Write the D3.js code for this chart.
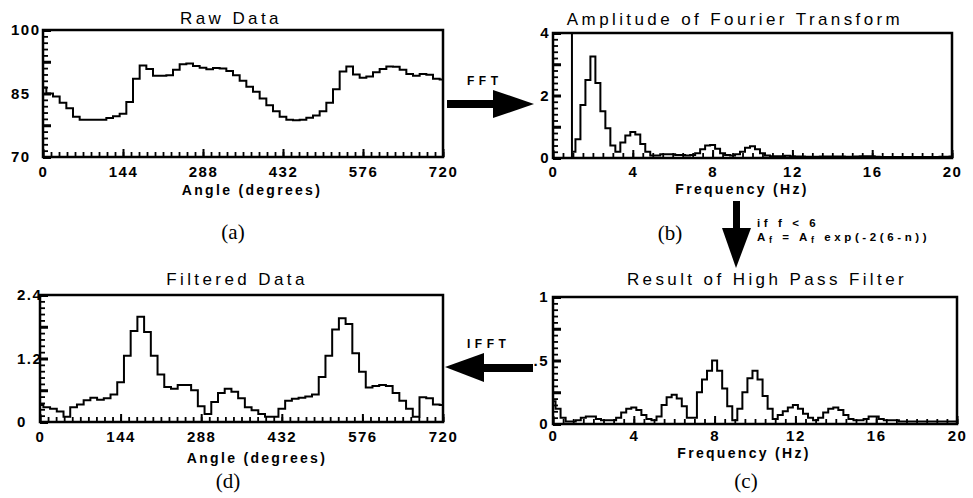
<!DOCTYPE html>
<html>
<head>
<meta charset="utf-8">
<script src="https://cdn.jsdelivr.net/npm/d3@7"></script>
<style>
  body { margin: 0; background: #fff; }
  text { font-family: "Liberation Sans", Arial, Helvetica, sans-serif; fill: #000; }
  .serif { font-family: "Liberation Serif", "Times New Roman", serif; }
</style>
</head>
<body>
<svg id="chart" width="973" height="498"></svg>
<script>
// sample positions (degrees), one row per 144 deg
const angles = [
    0, 12, 24, 36, 48, 60, 72, 84, 96, 108, 120, 132,
    144, 156, 168, 180, 192, 204, 216, 228, 240, 252, 264, 276,
    288, 300, 312, 324, 336, 348, 360, 372, 384, 396, 408, 420,
    432, 444, 456, 468, 480, 492, 504, 516, 528, 540, 552, 564,
    576, 588, 600, 612, 624, 636, 648, 660, 672, 684, 696, 708,
    720
]
const rawValues = [
    86.4, 85.0, 84.3, 82.8, 81.5, 79.5, 78.8, 78.8, 78.8, 78.8, 79.2, 79.6,
    80.2, 83.0, 88.5, 91.6, 90.8, 89.2, 89.2, 89.3, 90.6, 91.9, 92.1, 91.5,
    91.1, 90.7, 91.0, 90.9, 90.3, 89.3, 88.0, 86.6, 85.4, 83.8, 82.2, 80.8,
    79.5, 78.8, 78.7, 78.8, 79.3, 79.8, 80.8, 82.8, 86.0, 90.2, 91.4, 89.5,
    88.7, 89.0, 90.0, 90.8, 91.4, 91.3, 90.6, 89.6, 89.2, 89.6, 89.4, 88.5,
    88.3
]
const filteredValues = [
    0.32, 0.28, 0.25, 0.20, 0.10, 0.28, 0.33, 0.41, 0.46, 0.42, 0.45, 0.52,
    0.75, 1.25, 1.72, 1.99, 1.70, 1.25, 0.90, 0.66, 0.63, 0.70, 0.70, 0.60,
    0.30, 0.15, 0.38, 0.55, 0.63, 0.57, 0.45, 0.28, 0.22, 0.15, 0.10, 0.10,
    0.25, 0.40, 0.44, 0.46, 0.48, 0.52, 0.85, 1.25, 1.75, 1.96, 1.85, 1.30,
    0.95, 0.65, 0.68, 0.70, 0.68, 0.55, 0.40, 0.25, 0.10, 0.47, 0.45, 0.33,
    0.32
]

// sample positions (Hz), one row per Hz
const freqs = [
    0, 0.25, 0.5, 0.75,   1, 1.25, 1.5, 1.75,   2, 2.25, 2.5, 2.75,
    3, 3.25, 3.5, 3.75,   4, 4.25, 4.5, 4.75,   5, 5.25, 5.5, 5.75,
    6, 6.25, 6.5, 6.75,   7, 7.25, 7.5, 7.75,   8, 8.25, 8.5, 8.75,
    9, 9.25, 9.5, 9.75,   10, 10.25, 10.5, 10.75,   11, 11.25, 11.5, 11.75,
    12, 12.25, 12.5, 12.75,   13, 13.25, 13.5, 13.75,   14, 14.25, 14.5, 14.75,
    15, 15.25, 15.5, 15.75,   16, 16.25, 16.5, 16.75,   17, 17.25, 17.5, 17.75,
    18, 18.25, 18.5, 18.75,   19, 19.25, 19.5, 19.75,   20
]
const fftValues = [
    null, null, null, null,   0.20, 0.60, 1.70, 2.50,   3.25, 2.40, 1.50, 0.95,
    0.40, 0.20, 0.50, 0.72,   0.83, 0.75, 0.45, 0.20,   0.08, 0.08, 0.12, 0.12,
    0.12, 0.10, 0.10, 0.08,   0.10, 0.15, 0.28, 0.40,   0.42, 0.30, 0.15, 0.10,
    0.08, 0.12, 0.20, 0.33,   0.38, 0.28, 0.15, 0.08,   0.06, 0.06, 0.06, 0.07,
    0.06, 0.05, 0.05, 0.04,   0.04, 0.04, 0.05, 0.05,   0.05, 0.05, 0.05, 0.04,
    0.04, 0.05, 0.06, 0.06,   0.06, 0.04, 0.03, 0.03,   0.03, 0.03, 0.03, 0.03,
    0.03, 0.03, 0.03, 0.03,   0.03, 0.03, 0.04, 0.04,   0.05
]
const highPassValues = [
    0.18, 0.12, 0.05, 0.02,   0.02, 0.03, 0.05, 0.06,   0.06, 0.04, 0.03, 0.03,
    0.03, 0.05, 0.09, 0.12,   0.13, 0.11, 0.07, 0.04,   0.03, 0.06, 0.15, 0.21,
    0.23, 0.20, 0.14, 0.05,   0.05, 0.25, 0.35, 0.42,   0.50, 0.42, 0.28, 0.14,
    0.03, 0.12, 0.25, 0.36,   0.42, 0.35, 0.22, 0.12,   0.04, 0.07, 0.10, 0.13,
    0.15, 0.12, 0.08, 0.05,   0.03, 0.05, 0.09, 0.12,   0.13, 0.11, 0.07, 0.04,
    0.03, 0.03, 0.04, 0.06,   0.06, 0.04, 0.03, 0.03,   0.03, 0.02, 0.02, 0.02,
    0.02, 0.02, 0.02, 0.02,   0.02, 0.02, 0.02, 0.02,   0.02
]
const fftCutoff = 0.95

const angleTicks = [0, 144, 288, 432, 576, 720]
const freqTicks = [0, 4, 8, 12, 16, 20]
const rawTicks = [70, 85, 100]
const fftTicks = [0, 2, 4]
const filteredTicks = [0, 1.2, 2.4]
const highPassTicks = [0, 0.5, 1]

const svg = d3.select("#chart")

const panels = [
    {
        title: "Raw Data", tag: "(a)", xlabel: "Angle (degrees)",
        box: [43, 30, 443, 157], xs: angles, ys: rawValues,
        xDomain: [0, 720], yDomain: [70, 100],
        xTicks: angleTicks, xMinor: 14.4, yTicks: rawTicks, yMinor: 1.5, yMajor: 7.5,
        yFormat: d3.format("d"), yLabel: { anchor: "start", x: 11 }, xPad: 9,
        titlePos: [231, 24], xlabelPos: [252, 195], tagPos: [233, 239]
    },
    {
        title: "Amplitude of Fourier Transform", tag: "(b)", xlabel: "Frequency (Hz)",
        box: [553, 33, 952, 158], xs: freqs, ys: fftValues,
        xDomain: [0, 20], yDomain: [0, 4],
        xTicks: freqTicks, xMinor: 0.5, yTicks: fftTicks, yMinor: 0.2, yMajor: 1,
        yFormat: d3.format("d"), yLabel: { anchor: "end", x: 550 }, xPad: 8,
        titlePos: [735, 25], xlabelPos: [742, 194], tagPos: [670, 240],
        cutoff: fftCutoff
    },
    {
        title: "Filtered Data", tag: "(d)", xlabel: "Angle (degrees)",
        box: [40, 295, 443, 422], xs: angles, ys: filteredValues,
        xDomain: [0, 720], yDomain: [0, 2.4],
        xTicks: angleTicks, xMinor: 14.4, yTicks: filteredTicks, yMinor: 0.12, yMajor: 0.6,
        yFormat: d => d === 0 ? "0" : d3.format(".1f")(d), yLabel: { anchor: "start", x: 17 }, xPad: 9,
        titlePos: [237, 285], xlabelPos: [257, 463], tagPos: [228, 488]
    },
    {
        title: "Result of High Pass Filter", tag: "(c)", xlabel: "Frequency (Hz)",
        box: [553, 297, 957, 424], xs: freqs, ys: highPassValues,
        xDomain: [0, 20], yDomain: [0, 1],
        xTicks: freqTicks, xMinor: 0.5, yTicks: highPassTicks, yMinor: 0.05, yMajor: 0.25,
        yFormat: d => d === 0.5 ? ".5" : String(d), yLabel: { anchor: "end", x: 549 }, xPad: 6,
        titlePos: [767, 285], xlabelPos: [744, 457.5], tagPos: [746, 488]
    }
]

panels.forEach(drawPanel)
drawArrows()

function steps(domain, step) {
    const n = Math.round((domain[1] - domain[0]) / step)
    return d3.range(n + 1).map(i => domain[0] + i * step)
}

function drawPanel(p) {
    const [x0, y0, x1, y1] = p.box
    const w = x1 - x0, h = y1 - y0
    const x = d3.scaleLinear().domain(p.xDomain).range([0, w])
    const y = d3.scaleLinear().domain(p.yDomain).range([h, 0])
    const g = svg.append("g").attr("transform", `translate(${x0},${y0})`)

    // minor ticks, pointing inward
    g.append("g").attr("transform", `translate(0,${h})`)
        .call(d3.axisBottom(x).tickValues(steps(p.xDomain, p.xMinor)).tickSize(-5).tickFormat(""))
        .call(s => s.select(".domain").remove())
        .call(s => s.selectAll("line").attr("stroke", "#000").attr("stroke-width", 1.8))
    g.append("g")
        .call(d3.axisLeft(y).tickValues(steps(p.yDomain, p.yMinor)).tickSize(-5).tickFormat(""))
        .call(s => s.select(".domain").remove())
        .call(s => s.selectAll("line").attr("stroke", "#000").attr("stroke-width", 1.8))
    g.append("g")
        .call(d3.axisLeft(y).tickValues(steps(p.yDomain, p.yMajor)).tickSize(-8).tickFormat(""))
        .call(s => s.select(".domain").remove())
        .call(s => s.selectAll("line").attr("stroke", "#000").attr("stroke-width", 3))

    // labelled ticks
    g.append("g").attr("transform", `translate(0,${h})`)
        .call(d3.axisBottom(x).tickValues(p.xTicks).tickSize(-8).tickPadding(p.xPad).tickFormat(d3.format("d")))
        .call(s => s.select(".domain").remove())
        .call(s => s.selectAll("line").attr("stroke", "#000").attr("stroke-width", 2))
        .call(s => s.selectAll("text")
            .attr("fill", "#000")
            .style("font-size", "15px").style("font-weight", "bold").style("letter-spacing", "1.5px"))

    g.append("g")
        .call(d3.axisLeft(y).tickValues(p.yTicks).tickSize(0).tickFormat(p.yFormat))
        .call(s => s.select(".domain").remove())
        .call(s => s.selectAll("text")
            .attr("fill", "#000")
            .attr("text-anchor", p.yLabel.anchor)
            .attr("x", p.yLabel.x - x0)
            .style("font-size", "15px").style("font-weight", "bold").style("letter-spacing", "1.5px"))

    if (p.cutoff != null) {
        g.append("line")
            .attr("x1", x(p.cutoff)).attr("x2", x(p.cutoff))
            .attr("y1", 0).attr("y2", h)
            .attr("stroke", "#000").attr("stroke-width", 2)
    }

    const line = d3.line()
        .defined(d => d != null)
        .x((d, i) => x(p.xs[i]))
        .y(d => y(d))
        .curve(d3.curveStep)

    g.append("path")
        .datum(p.ys)
        .attr("d", line)
        .attr("fill", "none")
        .attr("stroke", "#000")
        .attr("stroke-width", 2)
        .attr("stroke-linejoin", "miter")

    g.append("rect")
        .attr("width", w).attr("height", h)
        .attr("fill", "none")
        .attr("stroke", "#000")
        .attr("stroke-width", 2.5)

    svg.append("text")
        .attr("x", p.titlePos[0]).attr("y", p.titlePos[1])
        .attr("text-anchor", "middle")
        .style("font-size", "17px").style("letter-spacing", "3.4px")
        .text(p.title)

    svg.append("text")
        .attr("x", p.xlabelPos[0]).attr("y", p.xlabelPos[1])
        .attr("text-anchor", "middle")
        .style("font-size", "14px").style("font-weight", "bold").style("letter-spacing", "2.3px")
        .text(p.xlabel)

    svg.append("text")
        .attr("class", "serif")
        .attr("x", p.tagPos[0]).attr("y", p.tagPos[1])
        .attr("text-anchor", "middle")
        .style("font-size", "21px")
        .text(p.tag)
}

function drawArrows() {
    const arrows = svg.append("g").attr("fill", "#000")

    // FFT, pointing right
    arrows.append("rect").attr("x", 447).attr("y", 100).attr("width", 48).attr("height", 8)
    arrows.append("path").attr("d", "M493,90 L534,104 L493,118 Z")
    svg.append("text").attr("x", 467).attr("y", 85)
        .style("font-size", "12px").style("font-weight", "bold").style("letter-spacing", "4.5px")
        .text("FFT")

    // high pass, pointing down
    arrows.append("rect").attr("x", 733).attr("y", 201).attr("width", 7).attr("height", 29)
    arrows.append("path").attr("d", "M722,228 L751,228 L736,268 Z")
    svg.append("text").attr("x", 757).attr("y", 227)
        .style("font-size", "11.5px").style("font-weight", "bold").style("letter-spacing", "3.6px")
        .text("if f < 6")
    const formula = svg.append("text").attr("x", 757).attr("y", 241)
        .style("font-size", "11.5px").style("font-weight", "bold").style("letter-spacing", "3.6px")
    formula.append("tspan").text("A")
    formula.append("tspan").attr("dy", 2).style("font-size", "9px").text("f")
    formula.append("tspan").attr("dy", -2).text(" = A")
    formula.append("tspan").attr("dy", 2).style("font-size", "9px").text("f")
    formula.append("tspan").attr("dy", -2).text(" exp(-2(6-n))")

    // IFFT, pointing left
    arrows.append("path").attr("d", "M445,367 L484,353 L484,382 Z")
    arrows.append("rect").attr("x", 483).attr("y", 364).attr("width", 50).attr("height", 8)
    svg.append("text").attr("x", 467).attr("y", 348)
        .style("font-size", "12px").style("font-weight", "bold").style("letter-spacing", "4.5px")
        .text("IFFT")
}
</script>
</body>
</html>
